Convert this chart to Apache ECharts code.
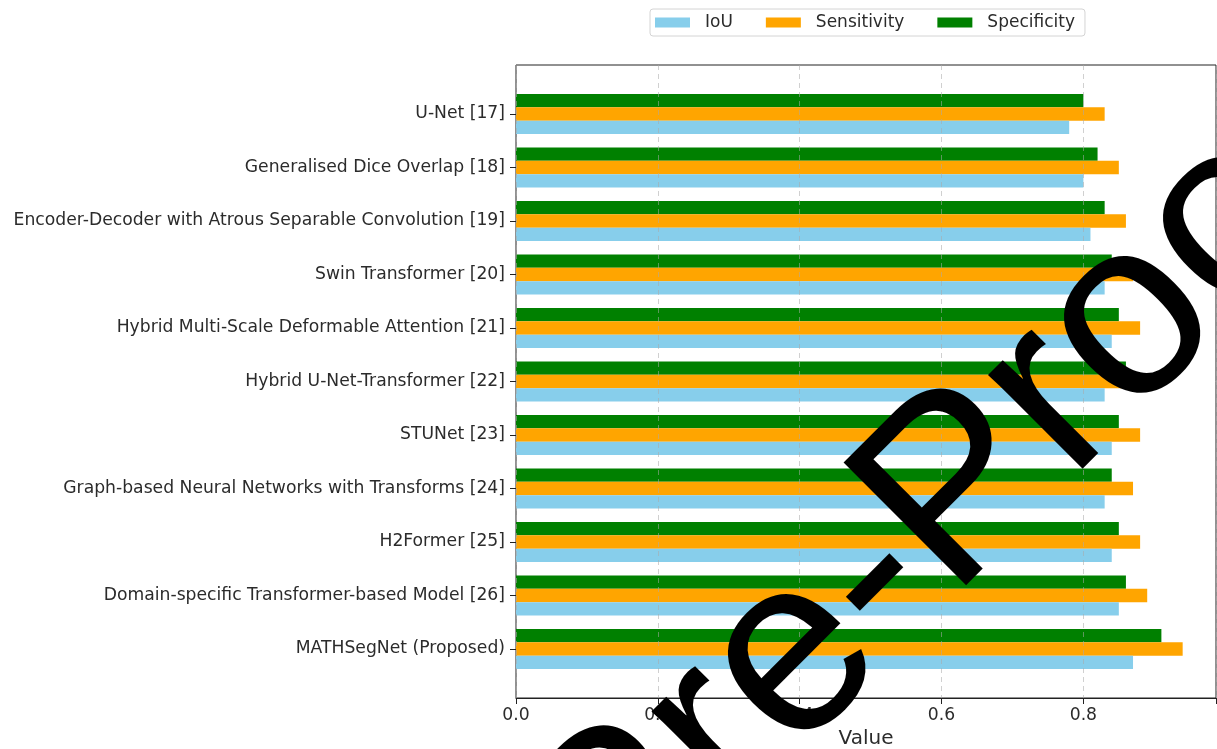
<!DOCTYPE html>
<html>
<head>
<meta charset="utf-8">
<script src="https://cdn.jsdelivr.net/npm/echarts@6/dist/echarts.min.js"></script>
<style>
  html, body { margin: 0; padding: 0; background: #fff; }
  #chart { width: 1217px; height: 749px; }
</style>
</head>
<body>
<div id="chart"></div>
<script>
// Segmentation methods, listed top to bottom
const methods = [
  'U-Net [17]',
  'Generalised Dice Overlap [18]',
  'Encoder-Decoder with Atrous Separable Convolution [19]',
  'Swin Transformer [20]',
  'Hybrid Multi-Scale Deformable Attention [21]',
  'Hybrid U-Net-Transformer [22]',
  'STUNet [23]',
  'Graph-based Neural Networks with Transforms [24]',
  'H2Former [25]',
  'Domain-specific Transformer-based Model [26]',
  'MATHSegNet (Proposed)'
];

// Metric scores per method
const iou         = [0.78, 0.80, 0.81, 0.83, 0.84, 0.83, 0.84, 0.83, 0.84, 0.85, 0.87];
const sensitivity = [0.83, 0.85, 0.86, 0.87, 0.88, 0.89, 0.88, 0.87, 0.88, 0.89, 0.94];
const specificity = [0.80, 0.82, 0.83, 0.84, 0.85, 0.86, 0.85, 0.84, 0.85, 0.86, 0.91];

const xTicks = [0.0, 0.2, 0.4, 0.6, 0.8];
const xMax = 0.987;

const FONT = '"DejaVu Sans", "Liberation Sans", sans-serif';
const INK = '#2b2b2b';
const LABEL_SIZE = 17.2;

const chart = echarts.init(document.getElementById('chart'), null, { renderer: 'canvas' });

const plotLeft = 516, plotWidth = 700, plotTop = 65, plotHeight = 633;
const band = 53.5; // spacing between method rows
const barsHeight = band * methods.length;
const barsTop = plotTop + (plotHeight - barsHeight) / 2;

chart.setOption({
  backgroundColor: '#fff',
  animation: false,
  legend: {
    data: ['IoU', 'Sensitivity', 'Specificity'],
    left: 650,
    top: 9,
    icon: 'rect',
    itemWidth: 35,
    itemHeight: 10,
    itemGap: 33,
    padding: [5, 10, 5, 5],
    borderColor: '#d4d4d4',
    borderWidth: 1,
    borderRadius: 3,
    textStyle: { fontFamily: FONT, fontSize: 17, color: INK, padding: [0, 0, 0, 10] }
  },
  grid: [
    // outer frame with value axis
    { left: plotLeft, top: plotTop, width: plotWidth, height: plotHeight,
      containLabel: false, outerBoundsMode: 'none',
      show: true, borderColor: '#222', borderWidth: 1, backgroundColor: 'transparent' },
    // band area where the method rows sit
    { left: plotLeft, top: barsTop, width: plotWidth, height: barsHeight,
      containLabel: false, outerBoundsMode: 'none' }
  ],
  xAxis: [
    {
      gridIndex: 0, type: 'value', min: 0, max: xMax, interval: 0.2, z: 5,
      name: 'Value', nameLocation: 'middle', nameGap: 31,
      nameTextStyle: { fontFamily: FONT, fontSize: 20, color: INK },
      axisLine: { show: true, lineStyle: { color: '#222', width: 1 } },
      axisTick: { show: true, length: 6, lineStyle: { color: '#222' } },
      axisLabel: {
        fontFamily: FONT, fontSize: LABEL_SIZE, color: INK, margin: 9,
        formatter: v => xTicks.some(t => Math.abs(t - v) < 1e-9) ? v.toFixed(1) : ''
      },
      splitLine: { show: true, lineStyle: { color: 'rgba(170,170,170,0.55)', type: [5, 4], width: 1 } }
    },
    { gridIndex: 1, type: 'value', min: 0, max: xMax, show: false }
  ],
  yAxis: [
    { gridIndex: 0, type: 'value', show: false },
    {
      gridIndex: 1, type: 'category', data: methods, inverse: true,
      axisLine: { show: false },
      axisTick: { show: true, length: 6, alignWithLabel: true, lineStyle: { color: '#222' } },
      axisLabel: { fontFamily: FONT, fontSize: LABEL_SIZE, color: INK, margin: 11 }
    }
  ],
  series: [
    { name: 'Specificity', type: 'bar', xAxisIndex: 1, yAxisIndex: 1, data: specificity,
      barWidth: 13.4, barGap: '0%', itemStyle: { color: '#008000' } },
    { name: 'Sensitivity', type: 'bar', xAxisIndex: 1, yAxisIndex: 1, data: sensitivity,
      barWidth: 13.4, barGap: '0%', itemStyle: { color: '#ffa500' } },
    { name: 'IoU', type: 'bar', xAxisIndex: 1, yAxisIndex: 1, data: iou,
      barWidth: 13.4, barGap: '0%', itemStyle: { color: '#87ceeb' } }
  ],
  graphic: [
    // watermark stamp across the plot
    {
      type: 'text', x: 947, y: 506, rotation: 45 * Math.PI / 180, z: 100,
      style: {
        text: 'Pre-Proof', fill: '#000',
        font: '252px "Liberation Sans", Arial, sans-serif',
        align: 'center', verticalAlign: 'middle'
      }
    }
  ]
});
</script>
</body>
</html>
